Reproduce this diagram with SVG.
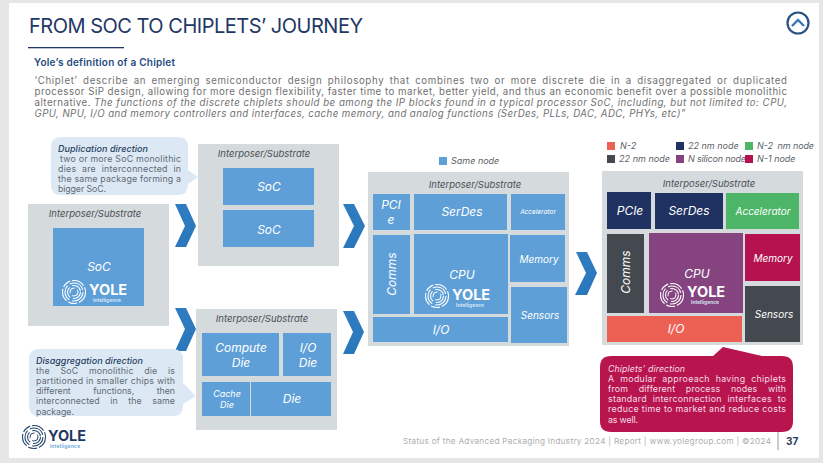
<svg xmlns="http://www.w3.org/2000/svg" xmlns:xlink="http://www.w3.org/1999/xlink" width="823" height="463" viewBox="0 0 823 463">
<style>
text{font-family:"Inter","Open Sans","DejaVu Sans",sans-serif}
.sub{fill:#d5dadd}
.lab{font-size:9.5px;font-style:italic;fill:#4a4f55;text-anchor:middle}
.b{fill:#5f9fd8}
.w{fill:#fff;font-style:italic;text-anchor:middle}
.p{font-size:9.7px;fill:#707070}
.c{font-size:8.8px;fill:#636a74}
.ct{font-size:9px;fill:#27405f;font-style:italic;font-weight:500}
.cw{font-size:8.8px;fill:#f6dbe5}
.leg{font-size:9px;font-style:italic;fill:#5a5f68}
.ch{fill:url(#chev)}
.yole{font-weight:700;fill:#fff;font-size:14.5px}
.intel{font-size:5px;fill:#dbe9f6;font-weight:600}
</style>
<defs>
<linearGradient id="chev" x1="0" y1="0" x2="0" y2="1"><stop offset="0" stop-color="#2f7cc0"/><stop offset="1" stop-color="#2a77bb"/></linearGradient>
<g id="rings">
<circle r="11.5" fill="none" stroke="currentColor" stroke-width="1.1" stroke-dasharray="13 2 9 2"/>
<circle r="9" fill="none" stroke="currentColor" stroke-width="1.1" stroke-dasharray="16 3"/>
<circle r="6.5" fill="none" stroke="currentColor" stroke-width="1.1" stroke-dasharray="11 3"/>
<circle r="4" fill="none" stroke="currentColor" stroke-width="1" stroke-dasharray="8 3"/>
</g>
</defs>
<rect width="823" height="463" fill="#e6e6e6"/>
<rect x="9" y="3" width="810" height="455" fill="#fff"/>

<g id="header">
<text x="29" y="33" font-size="20" fill="#1f3864" textLength="334" lengthAdjust="spacing">FROM SOC TO CHIPLETS’ JOURNEY</text>
<rect x="28" y="47" width="96" height="1.3" fill="#1f3864"/>
<text x="34" y="66" font-size="10" font-weight="600" fill="#1f4a80" textLength="141" lengthAdjust="spacing">Yole’s definition of a Chiplet</text>
<text class="p" x="34.5" y="84" textLength="752.5" lengthAdjust="spacing" style="word-spacing:2px">‘Chiplet’ describe an emerging semiconductor design philosophy that combines two or more discrete die in a disaggregated or duplicated</text>
<text class="p" x="34.5" y="95" textLength="752.5" lengthAdjust="spacing">processor SiP design, allowing for more design flexibility, faster time to market, better yield, and thus an economic benefit over a possible monolithic</text>
<text class="p" x="34.5" y="106" textLength="56" lengthAdjust="spacing">alternative.</text>
<text class="p" x="94" y="106" font-style="italic" textLength="693" lengthAdjust="spacing">The functions of the discrete chiplets should be among the IP blocks found in a typical processor SoC, including, but not limited to: CPU,</text>
<text class="p" x="34.5" y="117" font-style="italic" textLength="651" lengthAdjust="spacing">GPU, NPU, I/O and memory controllers and interfaces, cache memory, and analog functions (SerDes, PLLs, DAC, ADC, PHYs, etc)”</text>
</g>
<g id="nav-icon">
<circle cx="798" cy="23" r="10.5" fill="none" stroke="#27527f" stroke-width="2.2"/>
<path d="M792 26 L798 20 L804 26" fill="none" stroke="#3a78b5" stroke-width="2.4"/>
</g>

<g id="connectors">
<path class="ch" d="M175 204H186L196 226L186 247H175L185 226Z"/>
<path class="ch" d="M175 308H186L196 329L186 351H175L185 329Z"/>
<path class="ch" d="M343 204H354L365 226L354 248H343L354 226Z"/>
<path class="ch" d="M343 311H354L364 332L354 354H343L353 332Z"/>
<path class="ch" d="M576 252H587L597 273L587 295H575L586 273Z"/>
</g>

<g id="callout-duplication">
<path d="M61 137H178Q188 137 188 147V170L198 177L188 184V185Q188 195 178 195H61Q51 195 51 185V147Q51 137 61 137Z" fill="#dce9f5"/>
<text class="ct" x="58" y="152" textLength="90" lengthAdjust="spacing">Duplication direction</text>
<text class="c" x="60" y="162" textLength="121" lengthAdjust="spacing">two or more SoC monolithic</text>
<text class="c" x="58" y="172" textLength="123" lengthAdjust="spacing" style="word-spacing:3px">dies are interconnected in</text>
<text class="c" x="58" y="182" textLength="123" lengthAdjust="spacing">the same package forming a</text>
<text class="c" x="58" y="192" textLength="48" lengthAdjust="spacing">bigger SoC.</text>
</g>

<g id="soc-monolithic">
<rect class="sub" x="28" y="204" width="141" height="122"/>
<text class="lab" x="95" y="217">Interposer/Substrate</text>
<rect class="b" x="53" y="228" width="91" height="78"/>
<text class="w" x="99" y="271" font-size="12">SoC</text>
<use xlink:href="#rings" href="#rings" x="74" y="292" color="#fff"/>
<text class="yole" x="89" y="294.500">YOLE</text>
<text class="intel" x="93" y="301.500">Intelligence</text>
</g>

<g id="duplication">
<rect class="sub" x="198" y="144" width="141" height="122"/>
<text class="lab" x="264" y="157">Interposer/Substrate</text>
<rect class="b" x="223" y="168" width="91" height="37"/>
<text class="w" x="269" y="191" font-size="12">SoC</text>
<rect class="b" x="223" y="210" width="91" height="37"/>
<text class="w" x="269" y="234" font-size="12">SoC</text>
</g>

<g id="disaggregation">
<rect class="sub" x="196" y="309" width="141" height="121"/>
<text class="lab" x="262" y="322">Interposer/Substrate</text>
<rect class="b" x="202" y="333" width="77" height="43"/>
<text class="w" x="241" y="352" font-size="12">Compute</text>
<text class="w" x="241" y="367" font-size="12">Die</text>
<rect class="b" x="283" y="333" width="48" height="43"/>
<text class="w" x="308" y="352" font-size="12">I/O</text>
<text class="w" x="308" y="367" font-size="12">Die</text>
<rect class="b" x="202" y="382" width="48" height="34"/>
<text class="w" x="227" y="397" font-size="9">Cache</text>
<text class="w" x="227" y="408" font-size="9">Die</text>
<rect class="b" x="251" y="382" width="80" height="34"/>
<text class="w" x="292" y="403" font-size="12">Die</text>
</g>

<g id="callout-disaggregation">
<path d="M39 349H173Q183 349 183 359V383L196 396L183 404V406Q183 416 173 416H39Q29 416 29 406V359Q29 349 39 349Z" fill="#dce9f5"/>
<text class="ct" x="36" y="364" textLength="107" lengthAdjust="spacing">Disaggregation direction</text>
<text class="c" x="36" y="374" textLength="139" lengthAdjust="spacing" style="word-spacing:8px">the SoC monolithic die is</text>
<text class="c" x="36" y="384" textLength="139" lengthAdjust="spacing">partitioned in smaller chips with</text>
<text class="c" x="36" y="394" textLength="139" lengthAdjust="spacing" style="word-spacing:20px">different functions, then</text>
<text class="c" x="36" y="404" textLength="139" lengthAdjust="spacing" style="word-spacing:8px">interconnected in the same</text>
<text class="c" x="36" y="415" textLength="38" lengthAdjust="spacing">package.</text>
</g>

<g id="same-node-stack">
<rect class="b" x="439" y="157" width="8" height="8"/>
<text class="leg" x="451" y="164">Same node</text>
<rect class="sub" x="368" y="172" width="201" height="174"/>
<text class="lab" x="475" y="188">Interposer/Substrate</text>
<rect class="b" x="373" y="194" width="37" height="36"/>
<text class="w" x="391" y="209" font-size="12">PCI</text>
<text class="w" x="391" y="224" font-size="12">e</text>
<rect class="b" x="414" y="194" width="93" height="36"/>
<text class="w" x="462" y="216" font-size="12">SerDes</text>
<rect class="b" x="511" y="194" width="54" height="36"/>
<text class="w" x="538" y="214" font-size="6.500">Accelerator</text>
<rect class="b" x="373" y="235" width="37" height="79"/>
<text class="w" transform="translate(396 274) rotate(-90)" font-size="12">Comms</text>
<rect class="b" x="414" y="234" width="94" height="80"/>
<text class="w" x="462" y="279" font-size="12">CPU</text>
<use xlink:href="#rings" href="#rings" x="437" y="296" color="#fff"/>
<text class="yole" x="452" y="300">YOLE</text>
<text class="intel" x="456" y="307">Intelligence</text>
<rect class="b" x="510" y="235" width="55" height="47"/>
<text class="w" x="539" y="263" font-size="10">Memory</text>
<rect class="b" x="511" y="287" width="56" height="56"/>
<text class="w" x="540" y="319" font-size="10">Sensors</text>
<rect class="b" x="373" y="317" width="135" height="25"/>
<text class="w" x="441" y="334" font-size="12">I/O</text>
</g>

<g id="chiplets-stack">
<g id="legend">
<rect x="607" y="142" width="8" height="8" fill="#ed6155"/><text class="leg" x="620" y="149">N-2</text>
<rect x="676" y="142" width="8" height="8" fill="#1f3261"/><text class="leg" x="688" y="149">22 nm node</text>
<rect x="745" y="142" width="8" height="8" fill="#4cb568"/><text class="leg" x="757" y="149" xml:space="preserve" textLength="57" lengthAdjust="spacing">N-2  nm node</text>
<rect x="607" y="155" width="8" height="8" fill="#43494f"/><text class="leg" x="619" y="162" textLength="51" lengthAdjust="spacing">22 nm node</text>
<rect x="676" y="155" width="8" height="8" fill="#85447f"/><text class="leg" x="688" y="162" textLength="58" lengthAdjust="spacing">N silicon node</text>
<rect x="745" y="155" width="8" height="8" fill="#b5124f"/><text class="leg" x="757" y="162">N-1 node</text>
</g>
<rect class="sub" x="602" y="171" width="201" height="174"/>
<text class="lab" x="709" y="187">Interposer/Substrate</text>
<rect x="607" y="192" width="44" height="37" fill="#1f3261"/>
<text class="w" x="630" y="215" font-size="12">PCIe</text>
<rect x="655" y="193" width="68" height="36" fill="#1f3261"/>
<text class="w" x="689" y="215" font-size="12">SerDes</text>
<rect x="726" y="193" width="73" height="36" fill="#4cb568"/>
<text class="w" x="763" y="215" font-size="10">Accelerator</text>
<rect x="607" y="234" width="37" height="79" fill="#43494f"/>
<text class="w" transform="translate(630 272) rotate(-90)" font-size="12">Comms</text>
<rect x="649" y="233" width="94" height="80" fill="#85447f"/>
<text class="w" x="697" y="278" font-size="12">CPU</text>
<use xlink:href="#rings" href="#rings" x="672" y="295" color="#fff"/>
<text class="yole" x="687" y="297">YOLE</text>
<text class="intel" x="691" y="304">Intelligence</text>
<rect x="745" y="234" width="55" height="47" fill="#b5124f"/>
<text class="w" x="773" y="262" font-size="10">Memory</text>
<rect x="745" y="286" width="55" height="56" fill="#43494f"/>
<text class="w" x="774" y="318" font-size="10">Sensors</text>
<rect x="607" y="316" width="135" height="26" fill="#ed6155"/>
<text class="w" x="676" y="333" font-size="12">I/O</text>
</g>

<g id="callout-chiplets">
<path d="M611 356H713L723 347L762 356H782Q793 356 793 367V421Q793 432 782 432H611Q600 432 600 421V367Q600 356 611 356Z" fill="#b8154f"/>
<text class="cw" x="608" y="372" font-style="italic" font-size="9" textLength="77" lengthAdjust="spacing">Chiplets’ direction</text>
<text class="cw" x="608" y="382" textLength="178" lengthAdjust="spacing" style="word-spacing:3px">A modular approeach having chiplets</text>
<text class="cw" x="608" y="392" textLength="178" lengthAdjust="spacing" style="word-spacing:8px">from different process nodes with</text>
<text class="cw" x="608" y="402" textLength="178" lengthAdjust="spacing" style="word-spacing:3px">standard interconnection interfaces to</text>
<text class="cw" x="608" y="412" textLength="178" lengthAdjust="spacing">reduce time to market and reduce costs</text>
<text class="cw" x="608" y="423" textLength="30" lengthAdjust="spacing">as well.</text>
</g>

<g id="footer">
<use xlink:href="#rings" href="#rings" x="34" y="437" color="#27476e"/>
<text x="48" y="441" font-size="14.500" font-weight="700" fill="#1f3864" textLength="38" lengthAdjust="spacing">YOLE</text>
<text x="50" y="448" font-size="4.800" font-weight="600" fill="#5f9fd8" textLength="30" lengthAdjust="spacing">Intelligence</text>
<text x="403" y="444" font-size="8.200" fill="#adadad" textLength="368" lengthAdjust="spacing">Status of the Advanced Packaging Industry 2024 | Report | www.yolegroup.com | ©2024</text>
<rect x="777.500" y="432" width="1" height="18" fill="#9a9a9a"/>
<text x="786" y="445" font-size="10" font-weight="700" fill="#2b3a5c">37</text>
</g>
</svg>
